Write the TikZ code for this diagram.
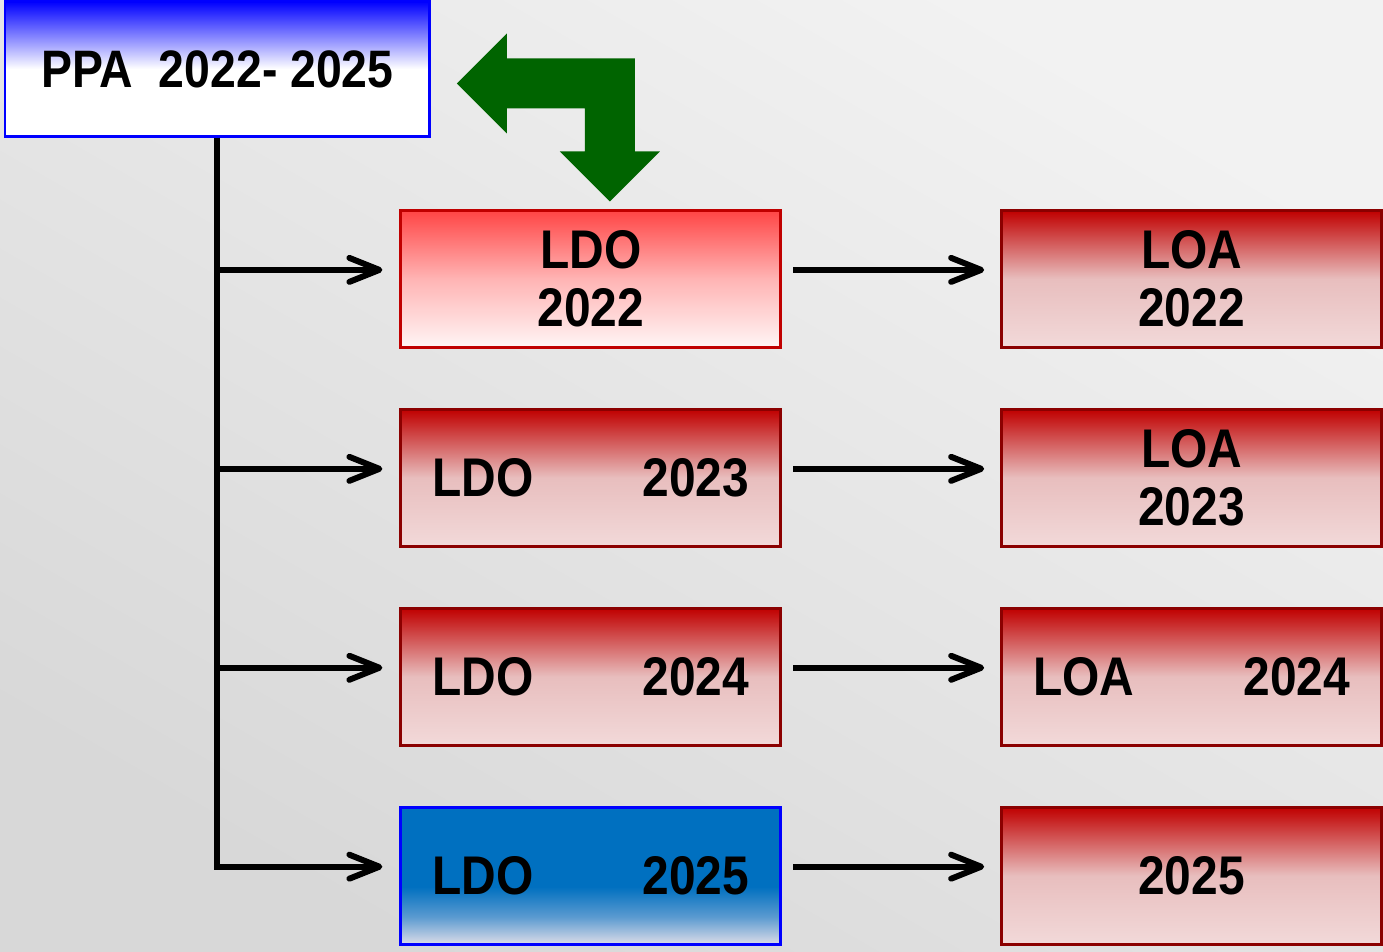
\documentclass[tikz,border=0pt]{standalone}
\usepackage{fontspec}
\setmainfont{Liberation Sans}[FakeStretch=0.88]
\usetikzlibrary{trees,arrows.meta}

\definecolor{fundoclaro}{HTML}{F2F2F2}
\definecolor{fundoescuro}{HTML}{D8D8D8}
\definecolor{bordavermelha}{HTML}{8B0000}
\definecolor{bordaviva}{HTML}{C00000}
\definecolor{vermelhotopo}{HTML}{C00000}
\definecolor{vermelhomeio}{HTML}{E8BEBE}
\definecolor{vermelhobase}{HTML}{F2D9D9}
\definecolor{rosatopo}{HTML}{FF4545}
\definecolor{rosameio}{HTML}{FFB4B4}
\definecolor{rosabase}{HTML}{FFF5F5}
\definecolor{azulborda}{HTML}{0000FF}
\definecolor{azulldo}{HTML}{0070C0}
\definecolor{azulmeio}{HTML}{5A9AD0}
\definecolor{azulbase}{HTML}{DCDCE8}
\definecolor{verde}{HTML}{006400}

\pgfdeclareverticalshading{vermelho}{100bp}{color(0bp)=(vermelhobase); color(25bp)=(vermelhobase); color(50bp)=(vermelhomeio); color(75bp)=(vermelhotopo); color(100bp)=(vermelhotopo)}
\pgfdeclareverticalshading{rosa}{100bp}{color(0bp)=(rosabase); color(25bp)=(rosabase); color(50bp)=(rosameio); color(75bp)=(rosatopo); color(100bp)=(rosatopo)}
\pgfdeclareverticalshading{azul}{100bp}{color(0bp)=(azulbase); color(25bp)=(azulbase); color(35bp)=(azulmeio); color(46bp)=(azulldo); color(100bp)=(azulldo)}
\pgfdeclareverticalshading{topo}{100bp}{color(0bp)=(white); color(50bp)=(white); color(75bp)=(azulborda); color(100bp)=(azulborda)}

\begin{document}
\begin{tikzpicture}[
every node/.style={font=\bfseries\fontsize{31}{33}\selectfont, inner sep=0pt, line width=1.7pt},
caixa/.style={draw=bordavermelha, shading=vermelho, minimum width=7.6cm, minimum height=2.74cm, align=center},
ldoclaro/.style={caixa, draw=bordaviva, shading=rosa},
ldoazul/.style={caixa, draw=azulborda, shading=azul},
separa/.style={text width=6.34cm, align=left},
edge from parent/.style={draw, line width=3.4pt, -{Straight Barb[length=6mm,width=4.8mm,round]}},
level 1/.style={grow via three points={one child at (7.47,-4.2) and two children at (7.47,-4.2) and (7.47,-8.18)},
	edge from parent path={(\tikzparentnode.south) |- ([yshift=1.8mm]\tikzchildnode.west)},
	shorten >=0.34cm},
level 2/.style={grow=right, level distance=12.02cm,
	edge from parent path={([yshift=1.8mm]\tikzparentnode.east) -- ([yshift=1.8mm]\tikzchildnode.west)},
	shorten <=0.22cm, shorten >=0.32cm}
]
\begin{scope}[x=0.02cm,y=-0.02cm]
\useasboundingbox (0,0) rectangle (1383,951);
\shade[top color=fundoclaro, bottom color=fundoescuro, shading angle=-30] (0,0) rectangle (1383,951);
% seta verde
\fill[verde] (457,83) -- (507,33) -- (507,58) -- (635,58) -- (635,151) -- (660,151) -- (610,201)
	-- (560,151) -- (585,151) -- (585,108) -- (507,108) -- (507,133) -- cycle;
\end{scope}
\node[draw=azulborda, shading=topo, minimum width=8.5cm, minimum height=2.7cm,
	font=\bfseries\fontsize{30}{32}\selectfont] (ppa) at (4.35,-1.37) {PPA\ \ 2022- 2025}
	child { node[ldoclaro] (ldo22) {LDO\\2022}
		child { node[caixa] (loa22) {LOA\\2022} }
	}
	child { node[caixa,separa] (ldo23) {LDO\hfill 2023}
		child { node[caixa] (loa23) {LOA\\2023} }
	}
	child { node[caixa,separa] (ldo24) {LDO\hfill 2024}
		child { node[caixa,separa] (loa24) {LOA\hfill 2024} }
	}
	child { node[ldoazul,separa] (ldo25) {LDO\hfill 2025}
		child { node[caixa] (loa25) {2025} }
	};
\end{tikzpicture}
\end{document}
